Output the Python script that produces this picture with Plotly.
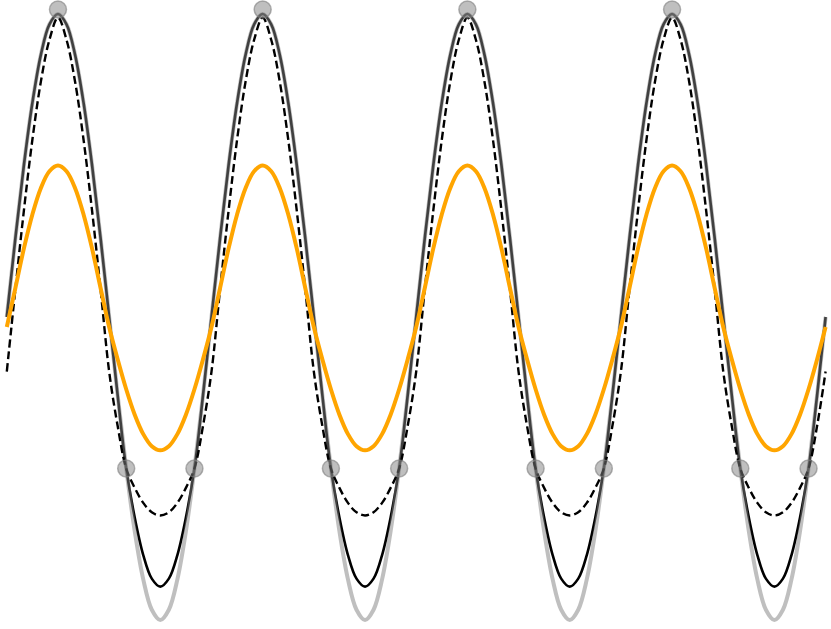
import plotly.graph_objects as go

phase_deg = [0, 15, 30, 45, 60, 75, 90, 105, 120, 135, 150, 165,
             180, 195, 210, 225, 240, 255, 270, 285, 300, 315, 330, 345]
n_cycles = 4

input_cycle = [-0.066, 0.19, 0.451, 0.677, 0.852, 0.962, 1.0, 0.962, 0.852, 0.677, 0.451, 0.19,
               -0.066, -0.28, -0.477, -0.645, -0.773, -0.853, -0.88, -0.853, -0.773, -0.645, -0.477, -0.28]
gain_cycle = [0.0, 0.518, 1.0, 1.414, 1.732, 1.932, 2.0, 1.932, 1.732, 1.414, 1.0, 0.518,
              0.0, -0.518, -1.0, -1.414, -1.732, -1.932, -2.0, -1.932, -1.732, -1.414, -1.0, -0.518]
soft_cycle = [0.0, 0.518, 1.0, 1.414, 1.732, 1.932, 2.0, 1.932, 1.732, 1.414, 1.0, 0.518,
              0.0, -0.518, -1.0, -1.323, -1.571, -1.727, -1.78, -1.727, -1.571, -1.323, -1.0, -0.518]
hard_cycle = [-0.36, 0.18, 0.70, 1.17, 1.555, 1.83, 1.976, 1.83, 1.555, 1.17, 0.70, 0.18,
              -0.36, -0.72, -1.0, -1.128, -1.227, -1.289, -1.31, -1.289, -1.227, -1.128, -1.0, -0.72]

# marker points within a cycle: peaks and threshold crossings
peak_phase = [90]
peak_value = 2.03
knee_phase = [210, 330]
knee_value = -1.0


def tile(cycle):
    return cycle * n_cycles + [cycle[0]]


t = [(c * 360 + p) / 360 for c in range(n_cycles) for p in phase_deg] + [n_cycles]

peak_t = [(c * 360 + p) / 360 for c in range(n_cycles) for p in peak_phase]
knee_t = [(c * 360 + p) / 360 for c in range(n_cycles) for p in knee_phase]

fig = go.Figure()

fig.add_trace(go.Scatter(
    x=t, y=tile(soft_cycle), mode='lines',
    line=dict(color='black', width=2.6, shape='spline'),
    hoverinfo='skip'
))
fig.add_trace(go.Scatter(
    x=t, y=tile(gain_cycle), mode='lines',
    line=dict(color='rgba(128,128,128,0.5)', width=4, shape='spline'),
    hoverinfo='skip'
))
fig.add_trace(go.Scatter(
    x=t, y=tile(hard_cycle), mode='lines',
    line=dict(color='black', width=2.4, dash='8px,4px', shape='spline'),
    hoverinfo='skip'
))
fig.add_trace(go.Scatter(
    x=t, y=tile(input_cycle), mode='lines',
    line=dict(color='#FFA500', width=4, shape='spline'),
    hoverinfo='skip'
))
fig.add_trace(go.Scatter(
    x=peak_t + knee_t,
    y=[peak_value] * len(peak_t) + [knee_value] * len(knee_t),
    mode='markers', cliponaxis=False,
    marker=dict(size=17, color='rgba(128,128,128,0.5)',
                line=dict(width=1.5, color='rgba(128,128,128,0.6)')),
    hoverinfo='skip'
))

fig.update_layout(
    width=831, height=629,
    margin=dict(l=0, r=0, t=0, b=0),
    showlegend=False,
    plot_bgcolor='white', paper_bgcolor='white',
    xaxis=dict(range=[-0.0332, 4.0264], visible=False),
    yaxis=dict(range=[-2.0594, 2.0924], visible=False),
)

# drop the default page margin so the figure sits at the window corner
fig.write_html("out.html", config={'displayModeBar': False},
               post_script="document.body.style.margin = '0';")
